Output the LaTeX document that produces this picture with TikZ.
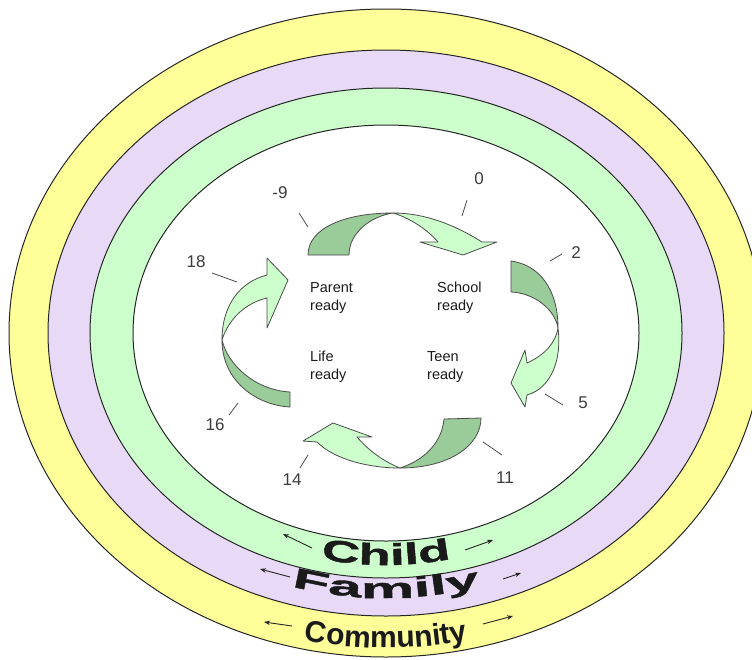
\documentclass[tikz,border=0pt]{standalone}
\usepackage{fontspec}
\setmainfont{Liberation Sans}
\newfontfamily\childfont{Liberation Sans}[FakeStretch=1.75,FakeBold=1.5]
\newfontfamily\familyfont{Liberation Sans}[FakeStretch=2.15,FakeBold=1.5]
\newfontfamily\commfont{Liberation Sans}
\usetikzlibrary{decorations.text,arrows.meta}
\definecolor{ringyellow}{HTML}{FFFF99}
\definecolor{ringpurple}{HTML}{E8D9F7}
\definecolor{ringgreen}{HTML}{CCFFCC}
\definecolor{arrdark}{HTML}{99CC99}
\definecolor{arrlight}{HTML}{CCFFCC}
\definecolor{inkgray}{HTML}{1A1A1A}
\begin{document}
\begin{tikzpicture}[x=1pt,y=-1pt,
  ring/.style={draw=black!85, line width=1pt},
  darkpart/.style={fill=arrdark, draw=black!70, line width=0.8pt, line join=round},
  lightpart/.style={fill=arrlight, draw=black!70, line width=0.8pt, line join=round},
  numlabel/.style={font=\fontsize{17}{18}\selectfont, text=inkgray!85, inner sep=0pt},
  tickline/.style={draw=black!70, line width=0.8pt},
  stage/.style={font=\fontsize{14.5}{18}\selectfont, align=left, anchor=west, inner sep=0pt, text=inkgray},
  dirarrow/.style={-{Stealth[length=6pt,width=4.5pt]}, line width=0.9pt, draw=black!85}]
\useasboundingbox (0,0) rectangle (752,659);
\clip (0,0) rectangle (752,659);
\fill[white] (0,0) rectangle (752,659);
% rings
\draw[ring, fill=ringyellow] (386,333) ellipse [x radius=377, y radius=324];
\draw[ring, fill=ringpurple] (386,333) ellipse [x radius=338, y radius=283];
\draw[ring, fill=ringgreen] (386,333) ellipse [x radius=296, y radius=245];
\draw[ring, fill=white] (386,333) ellipse [x radius=253, y radius=208];
% top arrow
\draw[darkpart] (308,255) .. controls (308,228) and (345,213) .. (393,213)
  .. controls (372,216) and (349,232) .. (349,255) -- cycle;
\draw[lightpart] (393,213) .. controls (425,213) and (455,225) .. (482,242)
  -- (497,242) -- (463,255) -- (420,242) -- (438,242)
  .. controls (428,230) and (410,218) .. (393,213) -- cycle;
% right arrow
\draw[darkpart] (511,261) .. controls (540,265) and (558,290) .. (558,328)
  .. controls (555,310) and (535,293) .. (511,292) -- cycle;
\draw[lightpart] (558,328) .. controls (562,358) and (552,388) .. (527,395)
  -- (525,407) -- (511,383) -- (525,350) -- (527,363)
  .. controls (545,355) and (556,342) .. (558,328) -- cycle;
% bottom arrow
\draw[darkpart] (444,419) -- (481,418) .. controls (481,445) and (450,468) .. (400,468)
  .. controls (425,460) and (442,442) .. (444,419) -- cycle;
\draw[lightpart] (400,468) .. controls (370,468) and (335,460) .. (317,442)
  -- (303,441) -- (333,423) -- (372,437) -- (357,437)
  .. controls (370,452) and (385,462) .. (400,468) -- cycle;
% left arrow
\draw[darkpart] (290,407) .. controls (255,405) and (222,380) .. (222,340)
  .. controls (228,365) and (255,390) .. (290,392) -- cycle;
\draw[lightpart] (222,340) .. controls (222,305) and (240,282) .. (267,275)
  -- (267,258) -- (288,280) -- (267,328) -- (267,298)
  .. controls (245,303) and (228,320) .. (222,340) -- cycle;
% stage labels
\node[stage] (parent) at (310,298) {Parent\\ready};
\node[stage] (school) at (437,298) {School\\ready};
\node[stage] (life) at (310,367) {Life\\ready};
\node[stage] (teen) at (427,367) {Teen\\ready};
% age numbers and ticks
\node[numlabel] (nm9) at (280,193) {-9};
\node[numlabel] (n0) at (479,179) {0};
\node[numlabel] (n2) at (576,253) {2};
\node[numlabel] (n5) at (583,403) {5};
\node[numlabel] (n11) at (505,478) {11};
\node[numlabel] (n14) at (292,480) {14};
\node[numlabel] (n16) at (215,425) {16};
\node[numlabel] (n18) at (196,262) {18};
\coordinate (tm9a) at (299,213); \coordinate (tm9b) at (308,227);
\coordinate (t0a) at (467,200); \coordinate (t0b) at (462,216);
\coordinate (t2a) at (562,254); \coordinate (t2b) at (550,261);
\coordinate (t5a) at (545,394); \coordinate (t5b) at (563,405);
\coordinate (t11a) at (483,442); \coordinate (t11b) at (502,455);
\coordinate (t14a) at (308,455); \coordinate (t14b) at (300,468);
\coordinate (t16a) at (238,403); \coordinate (t16b) at (229,415);
\coordinate (t18a) at (212,273); \coordinate (t18b) at (237,282);
\draw[tickline] (tm9a) -- (tm9b);
\draw[tickline] (t0a) -- (t0b);
\draw[tickline] (t2a) -- (t2b);
\draw[tickline] (t5a) -- (t5b);
\draw[tickline] (t11a) -- (t11b);
\draw[tickline] (t14a) -- (t14b);
\draw[tickline] (t16a) -- (t16b);
\draw[tickline] (t18a) -- (t18b);
% ring words
\path[decorate, decoration={text along path, text align=center, text color=inkgray,
  text={|\childfont\bfseries\fontsize{30}{30}\selectfont|Child}}]
  ([shift={(120:281 and 232)}]386,333) arc[start angle=120, end angle=60, x radius=281, y radius=232];
\path[decorate, decoration={text along path, text align=center, text color=inkgray,
  text={|\familyfont\bfseries\fontsize{28}{28}\selectfont|Family}}]
  ([shift={(120:320 and 265)}]386,333) arc[start angle=120, end angle=60, x radius=320, y radius=265];
\path[decorate, decoration={text along path, text align=center, text color=inkgray,
  text={|\commfont\bfseries\fontsize{30}{30}\selectfont|Community}}]
  ([shift={(120:372 and 315)}]386,333) arc[start angle=120, end angle=60, x radius=372, y radius=315];
% direction arrows
\coordinate (cla) at (312,548); \coordinate (clb) at (283,534);
\coordinate (cra) at (465,550); \coordinate (crb) at (493,540);
\coordinate (fla) at (290,577); \coordinate (flb) at (260,569);
\coordinate (fra) at (503,579); \coordinate (frb) at (521,573);
\coordinate (mla) at (292,626); \coordinate (mlb) at (264,622);
\coordinate (mra) at (483,624); \coordinate (mrb) at (513,616);
\draw[dirarrow] (cla) -- (clb);
\draw[dirarrow] (cra) -- (crb);
\draw[dirarrow] (fla) -- (flb);
\draw[dirarrow] (fra) -- (frb);
\draw[dirarrow] (mla) -- (mlb);
\draw[dirarrow] (mra) -- (mrb);
\end{tikzpicture}
\end{document}
